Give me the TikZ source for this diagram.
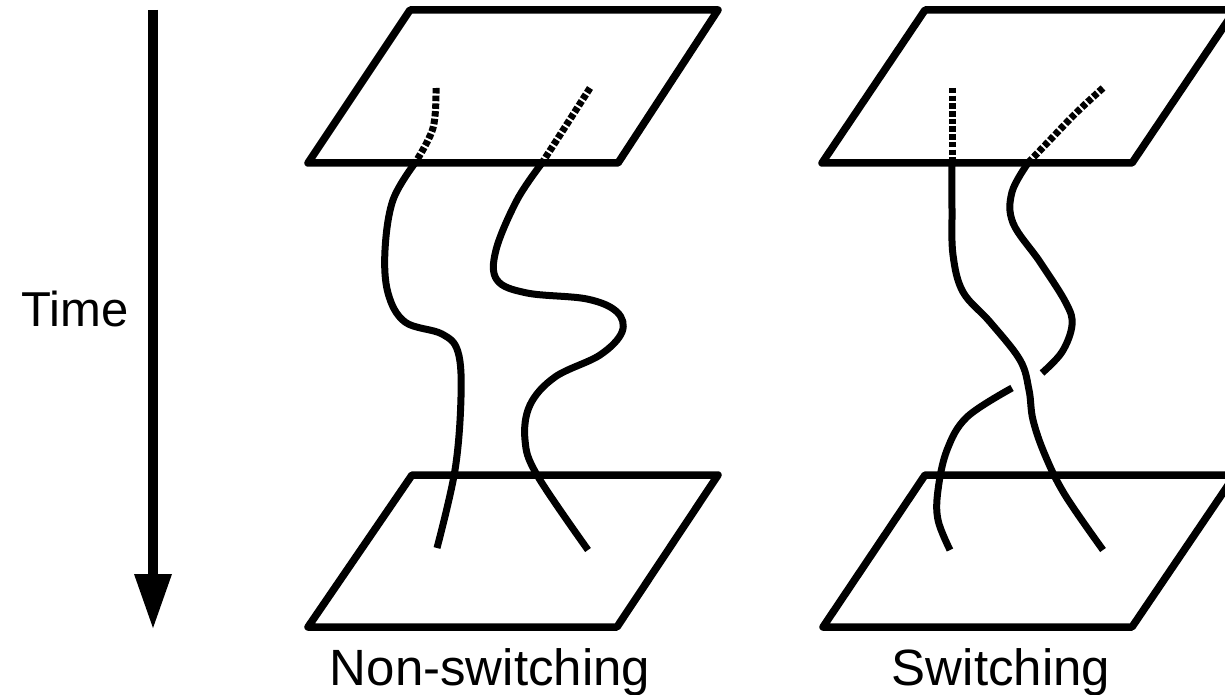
\documentclass[tikz,border=0pt]{standalone}
\usepackage{fontspec}
\setmainfont{Liberation Sans}
\begin{document}
\begin{tikzpicture}[x=1pt,y=-1pt,
  plane/.style={line width=7.5pt,line join=round},
  strand/.style={line width=7pt},
  hidden/.style={line width=7pt,dash pattern=on 5.5pt off 2.2pt},
  lbl/.style={font=\fontsize{51}{60}\selectfont,anchor=base,inner sep=0pt}]
\useasboundingbox (0,0) rectangle (1225,695);
\clip (0,0) rectangle (1225,695);
% planes
\draw[plane] (410,10) -- (718,10) -- (618,163) -- (308,163) -- cycle;
\draw[plane] (412,475) -- (718,475) -- (617,627) -- (308,627) -- cycle;
\draw[plane] (925,10) -- (1235,10) -- (1132,163) -- (822,163) -- cycle;
\draw[plane] (925,475) -- (1235,475) -- (1132,627) -- (823,627) -- cycle;
% time arrow
\draw[line width=10pt] (153,10) -- (153,576);
\fill (134,574) -- (172,574) -- (153,628) -- cycle;
\node[lbl,font=\fontsize{49}{58}\selectfont] (time) at (75,326) {Time};
% non-switching strands
\draw[hidden] plot[smooth,tension=0.6] coordinates {(436,88) (433,128) (415,163)};
\draw[strand] plot[smooth,tension=0.6] coordinates {(415,163) (393,200) (385,250) (388,293) (405,322) (442,334) (458,352) (461,397) (455,470) (437,548)};
\draw[hidden] plot[smooth,tension=0.6] coordinates {(590,88) (567,124) (542,163)};
\draw[strand] plot[smooth,tension=0.6] coordinates {(542,163) (517,200) (496,250) (497,280) (527,293) (587,299) (617,312) (622,332) (600,355) (555,377) (530,405) (525,440) (537,475) (588,550)};
% switching strands
\draw[hidden] (952,88) -- (952,163);
\draw[strand] plot[smooth,tension=0.6] coordinates {(952,163) (952,210) (953,255) (963,292) (990,322) (1020,360) (1029,390) (1033,420) (1045,455) (1065,495) (1103,550)};
\draw[hidden] plot[smooth,tension=0.6] coordinates {(1103,88) (1077,112) (1050,140) (1028,163)};
\draw[strand] plot[smooth,tension=0.6] coordinates {(1028,163) (1012,192) (1013,223) (1040,262) (1066,303) (1072,325) (1062,352) (1042,373)};
\draw[strand] plot[smooth,tension=0.6] coordinates {(1012,388) (967,417) (947,450) (938,490) (938,520) (950,550)};
% labels
\node[lbl] (ns) at (490,685) {Non-switching};
\node[lbl] (sw) at (1001,685) {Switching};
\end{tikzpicture}
\end{document}
